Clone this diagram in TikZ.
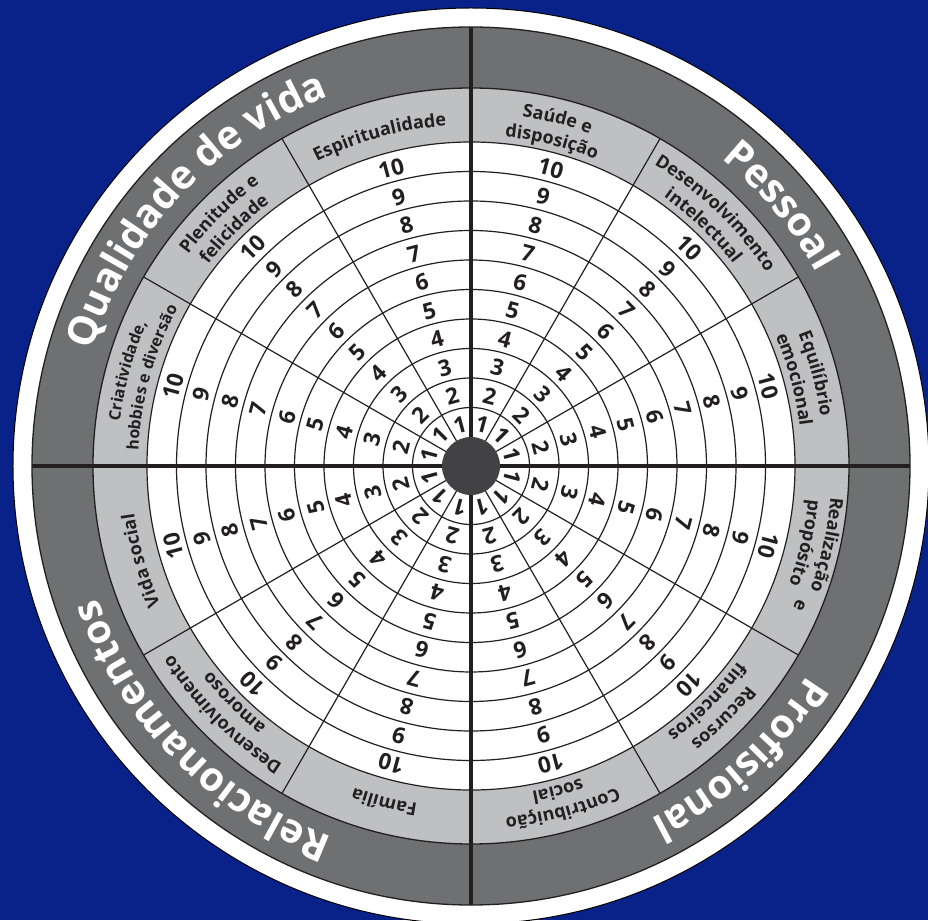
\documentclass[tikz,border=0pt]{standalone}
\usepackage{fontspec}
\setmainfont{Open Sans}
\usetikzlibrary{decorations.text}
\definecolor{bgblue}{RGB}{9,34,137}
\definecolor{ringdark}{RGB}{111,112,114}
\definecolor{ringlight}{RGB}{190,192,194}
\definecolor{hubgray}{RGB}{66,66,68}
\definecolor{ink}{RGB}{35,31,32}
\newcommand{\numfont}{\fontsize{22.5pt}{22.5pt}\selectfont\bfseries}
\newcommand{\secfont}{\fontsize{18pt}{20pt}\selectfont\bfseries\color{ink}}
\newcommand{\secsmall}{\fontsize{16pt}{18pt}\selectfont\bfseries\color{ink}}
\newcommand{\quadfont}{\fontsize{40pt}{40pt}\selectfont\bfseries\color{white}}
\newcommand{\arctext}[4]{\path[decorate,decoration={text along path,text align=center,text={|#3|#4}}] (#1+60:#2) arc[start angle=#1+60,end angle=#1-60,radius=#2pt];}
\begin{document}
\begin{tikzpicture}[x=1pt,y=1pt,
  ringline/.style={draw=ink,line width=1.2pt},
  spoke/.style={draw=ink,line width=1.2pt},
  axisline/.style={draw=ink,line width=3.5pt},
  num/.style={inner sep=0pt,text=ink,font=\numfont}]
\fill[bgblue] (-471,-454) rectangle (457,466);
\useasboundingbox (-471,-454) rectangle (457,466);
% disks
\fill[white,draw=black,line width=1pt] (0,0) circle[radius=458pt];
\fill[ringdark,draw=ink,line width=1.3pt] (0,0) circle[radius=439pt];
\fill[ringlight,draw=ink,line width=1.3pt] (0,0) circle[radius=378pt];
\fill[white] (0,0) circle[radius=324pt];
% score rings
\foreach \k in {1,...,10} \draw[ringline] (0,0) circle[radius={29+29.5*\k}];
% spokes
\foreach \a in {30,60,120,150,210,240,300,330} \draw[spoke] (\a:29) -- (\a:378);
\draw[axisline] (-439,0) -- (439,0);
\draw[axisline] (0,-439) -- (0,439);
% hub
\fill[hubgray] (0,0) circle[radius=29pt];
% numbers
\foreach \a in {15,45,...,345}
  \foreach \k in {1,...,10}
    \node[num,rotate=\a-90] at (\a:{29+29.5*(\k-0.5)-1}) {\k};
% quadrant labels
\arctext{137}{396}{\quadfont}{Qualidade de vida}
\arctext{40}{396}{\quadfont}{Pessoal}
\arctext{-47.5}{396}{\quadfont}{Profisional}
\arctext{224.5}{396}{\quadfont}{Relacionamentos}
% sector labels
\arctext{105.5}{341}{\secfont}{Espiritualidade}
\arctext{135}{353}{\secfont}{Plenitude e}
\arctext{135}{331}{\secfont}{felicidade}
\arctext{164.5}{354}{\secsmall}{Criatividade,}
\arctext{164.5}{333}{\secsmall}{hobbies e diversão}
\arctext{76}{353}{\secfont}{Saúde e}
\arctext{76}{331}{\secfont}{disposição}
\arctext{46}{353}{\secfont}{Desenvolvimento}
\arctext{46}{331}{\secfont}{intelectual}
\arctext{15}{353}{\secfont}{Equilíbrio}
\arctext{15}{331}{\secfont}{emocional}
\arctext{-12.5}{361}{\secfont}{Realização}
\arctext{-13}{339}{\secfont}{propósito}
\arctext{-23}{352}{\secfont}{e}
\arctext{-45}{353}{\secfont}{Recursos}
\arctext{-45}{331}{\secfont}{financeiros}
\arctext{-75}{353}{\secfont}{Contribuição}
\arctext{-75}{331}{\secfont}{social}
\arctext{-104.5}{342}{\secfont}{Família}
\arctext{-135}{353}{\secfont}{Desenvolvimento}
\arctext{-135}{331}{\secfont}{amoroso}
\arctext{-164}{340}{\secfont}{Vida social}
\end{tikzpicture}
\end{document}
